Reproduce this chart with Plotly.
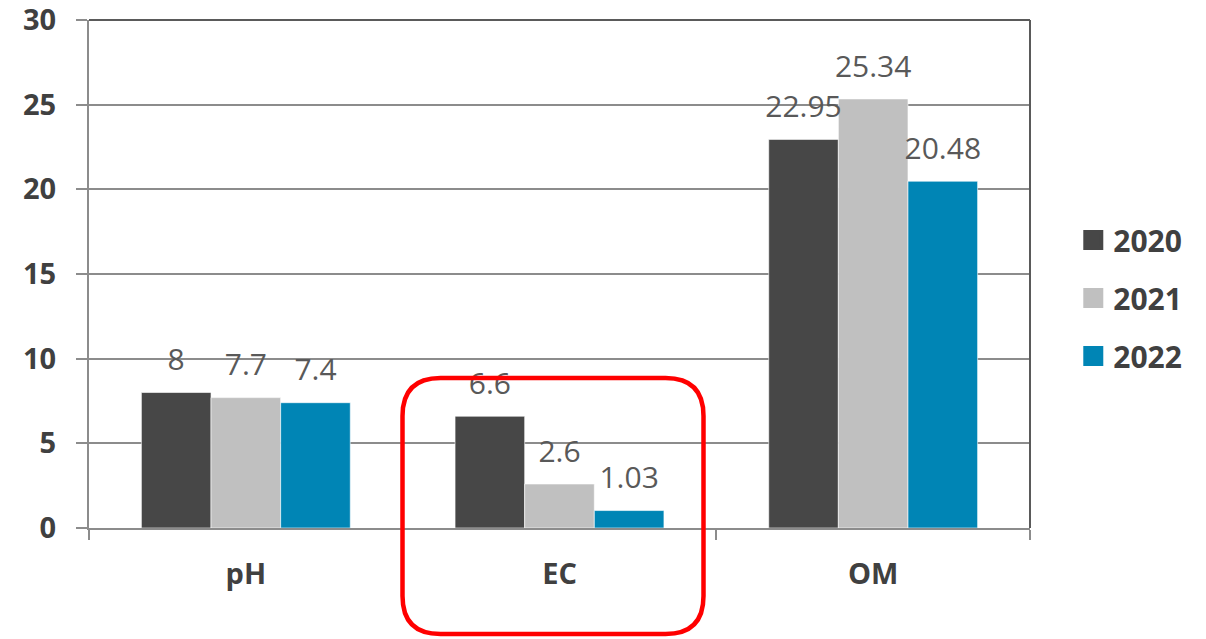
import plotly.graph_objects as go

# Soil parameters by year
categories = ["pH", "EC", "OM"]
years = ["2020", "2021", "2022"]
values_2020 = [8, 6.6, 22.95]
values_2021 = [7.7, 2.6, 25.34]
values_2022 = [7.4, 1.03, 20.48]
series = [values_2020, values_2021, values_2022]
colors = ["#474747", "#c0c0c0", "#0085b5"]

W, H = 1206, 639
ML, MR, MT, MB = 89, 176, 20, 111
PW, PH = W - ML - MR, H - MT - MB
GAP = 0.334

fig = go.Figure()

for name, vals, col in zip(years, series, colors):
    fig.add_trace(go.Bar(
        x=categories, y=vals, name=name,
        marker=dict(color=col, line=dict(color="rgba(255,255,255,0.6)", width=1)),
        offsetgroup=name, legendgroup=name, showlegend=False,
        hoverinfo="skip",
    ))

# Value labels, grouped alongside the bars
for name, vals in zip(years, series):
    fig.add_trace(go.Scatter(
        x=categories, y=vals, mode="markers+text",
        text=[f"{v:g}" for v in vals], textposition="top center",
        textfont=dict(family="Open Sans", size=30, color="#595959"),
        marker=dict(size=22, opacity=0),
        offsetgroup=name, legendgroup=name, showlegend=False,
        hoverinfo="skip", cliponaxis=False,
    ))

# Legend entries with large square swatches
for name, col in zip(years, colors):
    fig.add_trace(go.Scatter(
        x=[None], y=[None], mode="markers", name=name,
        marker=dict(symbol="square", size=16, color=col, line=dict(color=col, width=4)),
        offsetgroup=name, legendgroup=name, showlegend=True, hoverinfo="skip",
    ))


def px_to_paper(px, py):
    return (px - ML) / PW, (H - MB - py) / PH


def rounded_rect_path(x0, y0, x1, y1, r):
    def p(x, y):
        a, b = px_to_paper(x, y)
        return f"{a:.5f},{b:.5f}"

    pts = [
        "M" + p(x0 + r, y0),
        "L" + p(x1 - r, y0),
        "Q" + p(x1, y0) + " " + p(x1, y0 + r),
        "L" + p(x1, y1 - r),
        "Q" + p(x1, y1) + " " + p(x1 - r, y1),
        "L" + p(x0 + r, y1),
        "Q" + p(x0, y1) + " " + p(x0, y1 - r),
        "L" + p(x0, y0 + r),
        "Q" + p(x0, y0) + " " + p(x0 + r, y0),
        "Z",
    ]
    return " ".join(pts)


shapes = [
    # top and right frame
    dict(type="line", xref="paper", yref="paper", x0=0, x1=1, y0=1, y1=1,
         line=dict(color="#5a5a5a", width=2)),
    dict(type="line", xref="paper", yref="paper", x0=1, x1=1, y0=0, y1=1,
         line=dict(color="#5a5a5a", width=2)),
    # highlight around EC
    dict(type="path", xref="paper", yref="paper",
         path=rounded_rect_path(402.5, 378, 703.5, 634, 38),
         line=dict(color="#ff0000", width=4.5), fillcolor="rgba(0,0,0,0)"),
]

fig.update_layout(
    width=W, height=H,
    margin=dict(l=ML, r=MR, t=MT, b=MB, autoexpand=False),
    paper_bgcolor="white", plot_bgcolor="white",
    barmode="group", bargap=GAP, bargroupgap=0,
    scattermode="group", scattergap=GAP,
    font=dict(family="Open Sans", color="#404040"),
    showlegend=True,
    legend=dict(
        x=1.046, y=0.453, xanchor="left", yanchor="middle",
        font=dict(family="Open Sans", size=30, color="#404040", weight="bold"),
        tracegroupgap=16, traceorder="grouped", itemsizing="trace",
        bgcolor="rgba(0,0,0,0)",
    ),
    shapes=shapes,
)

fig.update_xaxes(
    type="category",
    showline=True, linecolor="#8c8c8c", linewidth=2,
    ticks="outside", tickson="boundaries", ticklen=10, tickcolor="#8c8c8c", tickwidth=2,
    tickfont=dict(family="Open Sans", size=29, color="#404040", weight="bold"),
    ticklabelstandoff=19,
    showgrid=False, zeroline=False,
)

fig.update_yaxes(
    range=[0, 30], dtick=5,
    showline=True, linecolor="#8c8c8c", linewidth=2,
    ticks="outside", ticklen=11, tickcolor="#8c8c8c", tickwidth=2,
    tickfont=dict(family="Open Sans", size=29, color="#404040", weight="bold"),
    ticklabelstandoff=14, ticklabeloverflow="allow",
    showgrid=True, gridcolor="#8c8c8c", gridwidth=2,
    zeroline=False,
)

fig.write_html("out.html")
